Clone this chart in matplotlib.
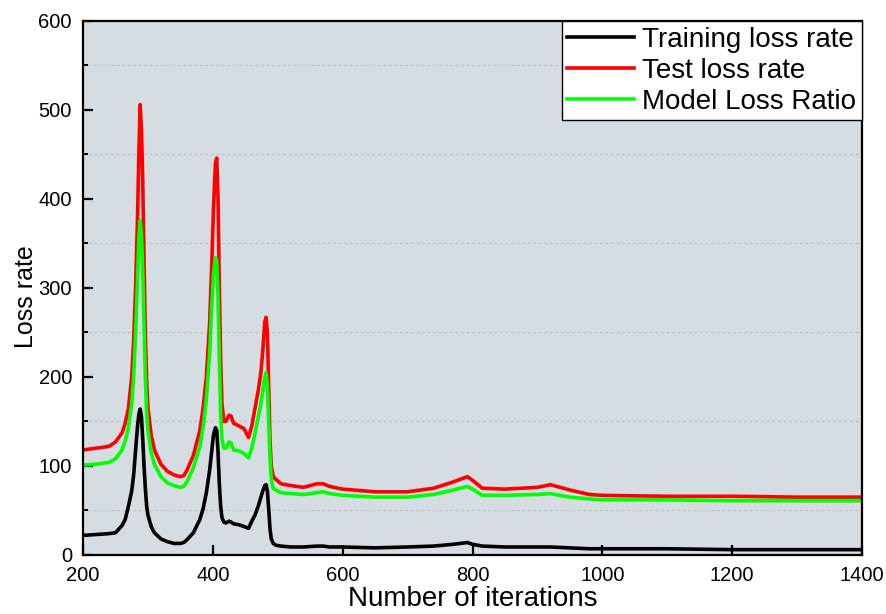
import matplotlib
matplotlib.use('Agg')
import matplotlib.pyplot as plt
from matplotlib.ticker import MultipleLocator

# iterations (denser around the peaks)
iters = [200, 220, 240, 250, 260, 265, 270, 275, 278, 281, 284, 286, 288, 290, 292, 294, 296, 298,
         300, 305, 310, 320, 330, 340, 350, 355, 360, 370, 380, 385, 390, 395, 398, 401, 404, 406,
         408, 410, 412, 414, 417, 420, 425, 428, 432, 440, 448, 455, 460, 465, 470, 474, 477, 480,
         482, 484, 486, 488, 490, 493, 497, 505, 520, 540, 560, 570, 580, 600, 650, 700, 740, 770,
         792, 800, 815, 850, 900, 920, 950, 980, 1000, 1100, 1200, 1300, 1400]

train_loss = [22, 23, 24, 25, 33, 40, 55, 72, 90, 118, 145, 158, 164, 155, 130, 100, 75, 55,
              45, 32, 25, 18, 15, 13, 13, 14, 17, 25, 40, 52, 70, 95, 115, 135, 143, 140,
              115, 80, 55, 42, 37, 36, 38, 37, 35, 34, 32, 30, 38, 45, 55, 65, 72, 78,
              79, 72, 52, 30, 18, 13, 11, 10, 9, 9, 10, 10, 9, 9, 8, 9, 10, 12,
              14, 12, 10, 9, 9, 9, 8, 7, 7, 7, 6, 6, 6]

test_loss = [118, 120, 122, 127, 137, 148, 165, 200, 240, 300, 380, 450, 506, 480, 420, 330, 250, 195,
             165, 135, 118, 102, 94, 90, 88, 89, 95, 112, 140, 165, 200, 260, 320, 390, 440, 446,
             400, 300, 220, 170, 150, 150, 157, 156, 148, 145, 142, 132, 145, 165, 185, 205, 230, 262,
             267, 250, 190, 130, 100, 88, 85, 80, 78, 76, 80, 80, 77, 74, 71, 71, 75, 82,
             88, 84, 75, 74, 76, 79, 73, 68, 67, 66, 66, 65, 65]

ratio_loss = [101, 102, 104, 108, 118, 128, 143, 170, 200, 250, 310, 355, 376, 360, 320, 260, 200, 160,
              140, 115, 102, 88, 81, 78, 76, 77, 82, 98, 122, 143, 175, 225, 275, 315, 334, 330,
              290, 220, 160, 130, 120, 120, 127, 126, 118, 117, 114, 109, 120, 137, 155, 170, 185, 200,
              205, 190, 150, 110, 85, 75, 73, 70, 69, 68, 70, 71, 69, 67, 65, 65, 68, 73,
              77, 74, 67, 67, 68, 69, 65, 63, 62, 62, 61, 61, 61]

plt.rcParams['font.family'] = ['Liberation Sans', 'DejaVu Sans']

fig = plt.figure(figsize=(8.87, 6.14), dpi=100)
ax = fig.add_axes([0.0936, 0.0961, 0.8782, 0.8697])
ax.set_facecolor('#d5dce2')

ax.plot(iters, train_loss, color='black', lw=2.6, label='Training loss rate')
ax.plot(iters, test_loss, color='#ff0000', lw=2.6, label='Test loss rate')
ax.plot(iters, ratio_loss, color='#00ff00', lw=2.6, label='Model Loss Ratio')

ax.set_xlim(200, 1400)
ax.set_ylim(0, 600)
ax.xaxis.set_major_locator(MultipleLocator(200))
ax.yaxis.set_major_locator(MultipleLocator(100))
ax.yaxis.set_minor_locator(MultipleLocator(50))
ax.grid(True, which='minor', axis='y', color='#b8bcc0', ls=(0, (2, 3)), lw=0.8)

ax.tick_params(which='major', direction='in', length=7, width=1.6, labelsize=14.5, pad=8,
               top=False, right=False)
ax.tick_params(which='minor', direction='in', length=3.5, width=1.4, top=False, right=False)
ax.tick_params(axis='x', which='minor', bottom=False)
for sp in ax.spines.values():
    sp.set_linewidth(1.6)

ax.set_xlabel('Number of iterations', fontsize=20, labelpad=1)
ax.set_ylabel('Loss rate', fontsize=18)
ax.yaxis.set_label_coords(-0.058, 0.483)

leg = ax.legend(loc='upper right', bbox_to_anchor=(1.0, 1.0), borderaxespad=0, fontsize=20,
                fancybox=False, edgecolor='black', framealpha=1, handlelength=2.4,
                handletextpad=0.3, labelspacing=0.18, borderpad=0.2)
leg.get_frame().set_linewidth(1.0)

fig.savefig('out.png', dpi=100)
